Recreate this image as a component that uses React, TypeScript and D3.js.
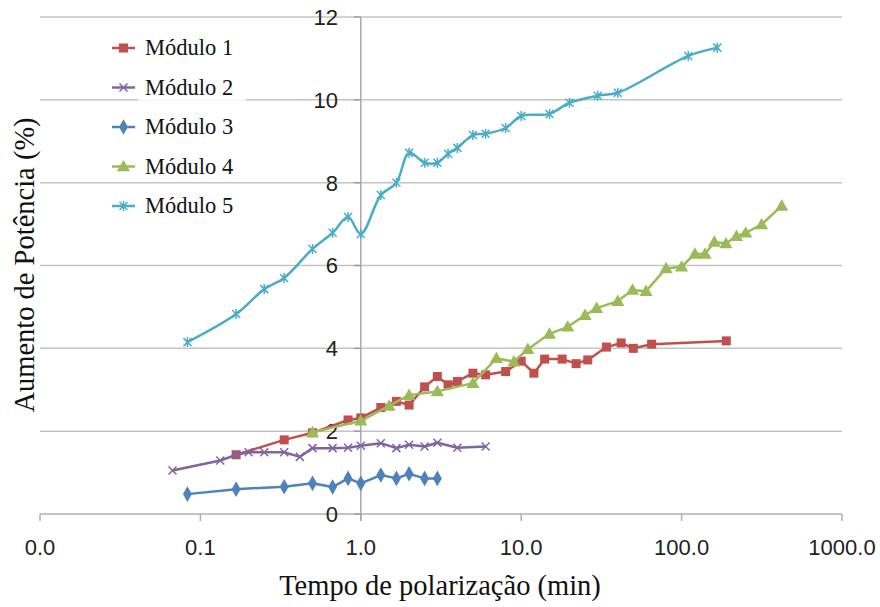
import React from "react";
import * as d3 from "d3";

// Polarization time (min) and power gain (%) for each module
const mod1Time = [0.167, 0.333, 0.5, 0.833, 1, 1.333, 1.667, 2, 2.5, 3, 3.5, 4, 5, 6, 8, 10, 12, 14, 18, 22, 26, 34, 42, 50, 65, 190];
const mod1Gain = [1.43, 1.79, 1.96, 2.27, 2.32, 2.57, 2.72, 2.63, 3.07, 3.32, 3.12, 3.2, 3.4, 3.36, 3.44, 3.69, 3.4, 3.74, 3.74, 3.63, 3.72, 4.03, 4.13, 4.0, 4.1, 4.18];

const mod2Time = [0.067, 0.133, 0.167, 0.2, 0.25, 0.333, 0.417, 0.5, 0.667, 0.833, 1, 1.333, 1.667, 2, 2.5, 3, 4, 6];
const mod2Gain = [1.05, 1.29, 1.43, 1.49, 1.49, 1.49, 1.38, 1.59, 1.59, 1.6, 1.65, 1.71, 1.59, 1.67, 1.63, 1.72, 1.6, 1.63];

const mod3Time = [0.083, 0.167, 0.333, 0.5, 0.667, 0.833, 1, 1.333, 1.667, 2, 2.5, 3];
const mod3Gain = [0.48, 0.6, 0.66, 0.74, 0.65, 0.86, 0.74, 0.94, 0.86, 0.97, 0.86, 0.86];

const mod4Time = [0.5, 1, 1.5, 2, 3, 5, 7, 9, 11, 15, 19.5, 25, 29.5, 40, 49.4, 60, 80, 100, 121, 140, 160, 189, 220, 251, 315, 421];
const mod4Gain = [1.97, 2.25, 2.61, 2.87, 2.96, 3.16, 3.76, 3.68, 3.98, 4.35, 4.52, 4.8, 4.97, 5.14, 5.41, 5.38, 5.93, 5.97, 6.28, 6.28, 6.57, 6.53, 6.71, 6.79, 6.99, 7.44];

const mod5Time = [0.083, 0.167, 0.25, 0.333, 0.5, 0.667, 0.833, 1, 1.333, 1.667, 2, 2.5, 3, 3.5, 4, 5, 6, 8, 10, 15, 20, 30, 40, 110, 167];
const mod5Gain = [4.15, 4.83, 5.43, 5.7, 6.4, 6.79, 7.17, 6.76, 7.7, 8.0, 8.72, 8.48, 8.48, 8.7, 8.84, 9.15, 9.18, 9.32, 9.61, 9.66, 9.93, 10.1, 10.17, 11.06, 11.26];

const seriesNames = ["Módulo 1", "Módulo 2", "Módulo 3", "Módulo 4", "Módulo 5"];
const seriesColors = ["#C0504D", "#8064A2", "#4F81BD", "#9BBB59", "#4BACC6"];
const markerKinds = ["square", "cross", "diamond", "triangle", "star"];

const xTickValues = [0.01, 0.1, 1, 10, 100, 1000];
const xTickLabels = ["0.0", "0.1", "1.0", "10.0", "100.0", "1000.0"];
const yTickValues = [0, 2, 4, 6, 8, 10, 12];

const xTitle = "Tempo de polarização (min)";
const yTitle = "Aumento de Potência (%)";

const W = 880;
const H = 607;

const x = d3.scaleLog().domain([0.01, 1000]).range([40, 842]);
const y = d3.scaleLinear().domain([0, 12]).range([514, 17]);

type Pt = { t: number; v: number };

const series: Pt[][] = [
  mod1Time.map((t, i) => ({ t, v: mod1Gain[i] })),
  mod2Time.map((t, i) => ({ t, v: mod2Gain[i] })),
  mod3Time.map((t, i) => ({ t, v: mod3Gain[i] })),
  mod4Time.map((t, i) => ({ t, v: mod4Gain[i] })),
  mod5Time.map((t, i) => ({ t, v: mod5Gain[i] })),
];

const straight = d3.line<Pt>().x((d) => x(d.t)).y((d) => y(d.v));
const smooth = d3
  .line<Pt>()
  .x((d) => x(d.t))
  .y((d) => y(d.v))
  .curve(d3.curveCatmullRom);

function Marker({ kind, cx, cy, color }: { kind: string; cx: number; cy: number; color: string }) {
  const s = 4.5;
  if (kind === "square") {
    return <rect x={cx - s} y={cy - s} width={2 * s} height={2 * s} fill={color} />;
  }
  if (kind === "diamond") {
    return <path d={d3.symbol().type(d3.symbolDiamond).size(70)()!} transform={`translate(${cx},${cy})`} fill={color} />;
  }
  if (kind === "triangle") {
    return <path d={d3.symbol().type(d3.symbolTriangle).size(75)()!} transform={`translate(${cx},${cy + 1})`} fill={color} />;
  }
  const r = 4;
  const diag = `M${cx - r},${cy - r}L${cx + r},${cy + r}M${cx - r},${cy + r}L${cx + r},${cy - r}`;
  if (kind === "cross") {
    return <path d={diag} stroke={color} strokeWidth={1.5} fill="none" />;
  }
  return <path d={`${diag}M${cx},${cy - r - 1}L${cx},${cy + r + 1}`} stroke={color} strokeWidth={1.5} fill="none" />;
}

export default function App() {
  const tickFont = "'Liberation Sans', Arial, sans-serif";
  const serif = "'Liberation Serif', 'Times New Roman', serif";
  const legendY = (i: number) => 48 + i * 39.5;
  return (
    <svg width={W} height={H} style={{ position: "absolute", left: 0, top: 0, background: "#fff" }}>
      <rect width={W} height={H} fill="#fff" />
      {/* horizontal gridlines */}
      {yTickValues.slice(1).map((v) => (
        <line key={v} x1={40} x2={842} y1={y(v)} y2={y(v)} stroke="#c4c4c4" strokeWidth={1.5} />
      ))}
      {/* x axis */}
      <line x1={40} x2={842} y1={y(0)} y2={y(0)} stroke="#b0b0b0" strokeWidth={1.5} />
      {xTickValues.map((t) => (
        <line key={t} x1={x(t)} x2={x(t)} y1={y(0)} y2={y(0) + 7} stroke="#b0b0b0" strokeWidth={1.5} />
      ))}
      {/* y axis crossing at 1 min */}
      <line x1={x(1)} x2={x(1)} y1={y(12)} y2={y(0) + 7} stroke="#a8a8a8" strokeWidth={1.5} />
      {yTickValues.map((v) => (
        <line key={v} x1={x(1) - 7} x2={x(1)} y1={y(v)} y2={y(v)} stroke="#a0a0a0" strokeWidth={1.5} />
      ))}
      {/* tick labels */}
      {yTickValues.map((v) => (
        <text key={v} x={338} y={y(v)} dy="0.36em" textAnchor="end" fontFamily={tickFont} fontSize={22} fill="#222">
          {v}
        </text>
      ))}
      {xTickValues.map((t, i) => (
        <text key={t} x={x(t)} y={547} dy="0.36em" textAnchor="middle" fontFamily={tickFont} fontSize={22} fill="#222">
          {xTickLabels[i]}
        </text>
      ))}
      {/* axis titles */}
      <text x={440} y={586} dy="0.3em" textAnchor="middle" fontFamily={serif} fontSize={28.5} fill="#111">
        {xTitle}
      </text>
      <text
        transform={`translate(25,265) rotate(-90)`}
        dy="0.3em"
        textAnchor="middle"
        fontFamily={serif}
        fontSize={28.5}
        fill="#111"
      >
        {yTitle}
      </text>
      {/* series */}
      {series.map((pts, i) => (
        <g key={i}>
          <path
            d={(i === 4 ? smooth : straight)(pts)!}
            fill="none"
            stroke={seriesColors[i]}
            strokeWidth={2.5}
            strokeLinejoin="round"
          />
          {pts.map((p, j) => (
            <Marker key={j} kind={markerKinds[i]} cx={x(p.t)} cy={y(p.v)} color={seriesColors[i]} />
          ))}
        </g>
      ))}
      {/* legend */}
      {seriesNames.map((name, i) => (
        <g key={name}>
          <line x1={112} x2={135} y1={legendY(i)} y2={legendY(i)} stroke={seriesColors[i]} strokeWidth={2.5} />
          <Marker kind={markerKinds[i]} cx={123.5} cy={legendY(i)} color={seriesColors[i]} />
          <rect x={138} y={legendY(i) - 13} width={108} height={26} fill="#fff" />
          <text x={145} y={legendY(i)} dy="0.33em" fontFamily={serif} fontSize={22.5} fill="#111">
            {name}
          </text>
        </g>
      ))}
    </svg>
  );
}
